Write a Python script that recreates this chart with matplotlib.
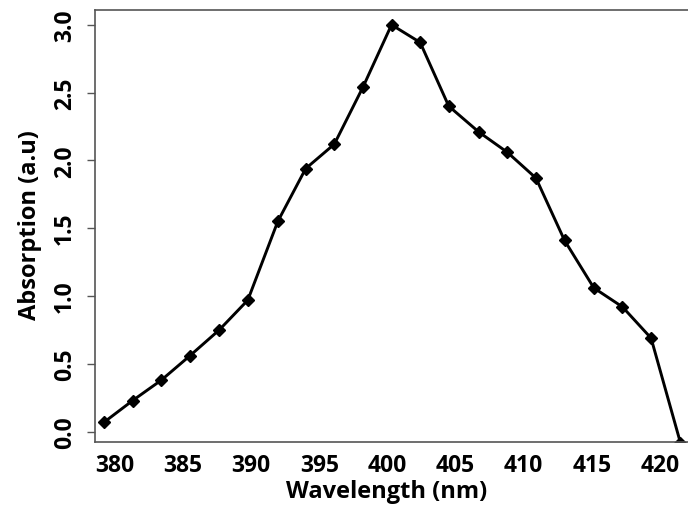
import matplotlib.pyplot as plt

# values
wavelength = [379.2, 381.3, 383.4, 385.5, 387.65, 389.75, 391.95, 394.0, 396.1,
              398.2, 400.3, 402.4, 404.5, 406.7, 408.8, 410.9, 413.0, 415.15,
              417.25, 419.35, 421.5]
absorption = [0.07, 0.23, 0.38, 0.56, 0.75, 0.97, 1.55, 1.94, 2.12,
              2.54, 3.0, 2.87, 2.40, 2.21, 2.06, 1.87, 1.41, 1.06,
              0.92, 0.69, -0.08]

xticks = [380, 385, 390, 395, 400, 405, 410, 415, 420]
yticks = [0.0, 0.5, 1.0, 1.5, 2.0, 2.5, 3.0]

plt.rcParams['font.family'] = ['Open Sans', 'DejaVu Sans']
plt.rcParams['font.weight'] = 'bold'

fig = plt.figure(figsize=(6.88, 5.06), dpi=100)
ax = fig.add_axes([0.138, 0.125, 0.862, 0.853])

ax.plot(wavelength, absorption, color='black', lw=2.1, marker='D', ms=6.5)

ax.set_xlim(378.53, 422.06)
ax.set_ylim(-0.074, 3.108)
ax.set_xticks(xticks)
ax.set_yticks(yticks)
ax.set_yticklabels([f"{v:.1f}" for v in yticks], rotation=90, va='center',
                   fontweight='bold')
ax.set_xticklabels([str(v) for v in xticks], fontweight='bold')
ax.tick_params(axis='x', length=0, pad=8, labelsize=16.5)
ax.tick_params(axis='y', length=6, width=1, color='#555555', pad=7, labelsize=16.5)

for s in ['left', 'bottom', 'top']:
    ax.spines[s].set_color('#555555')
    ax.spines[s].set_linewidth(1.2)
ax.spines['right'].set_visible(False)

ax.set_xlabel("Wavelength (nm)", fontsize=17, fontweight='bold', va='baseline')
ax.set_ylabel("Absorption (a.u)", fontsize=17, fontweight='bold', va='center')
ax.xaxis.set_label_coords(0.492, -0.129)
ax.yaxis.set_label_coords(-0.11, 0.505)

plt.savefig("out.png", dpi=100)
